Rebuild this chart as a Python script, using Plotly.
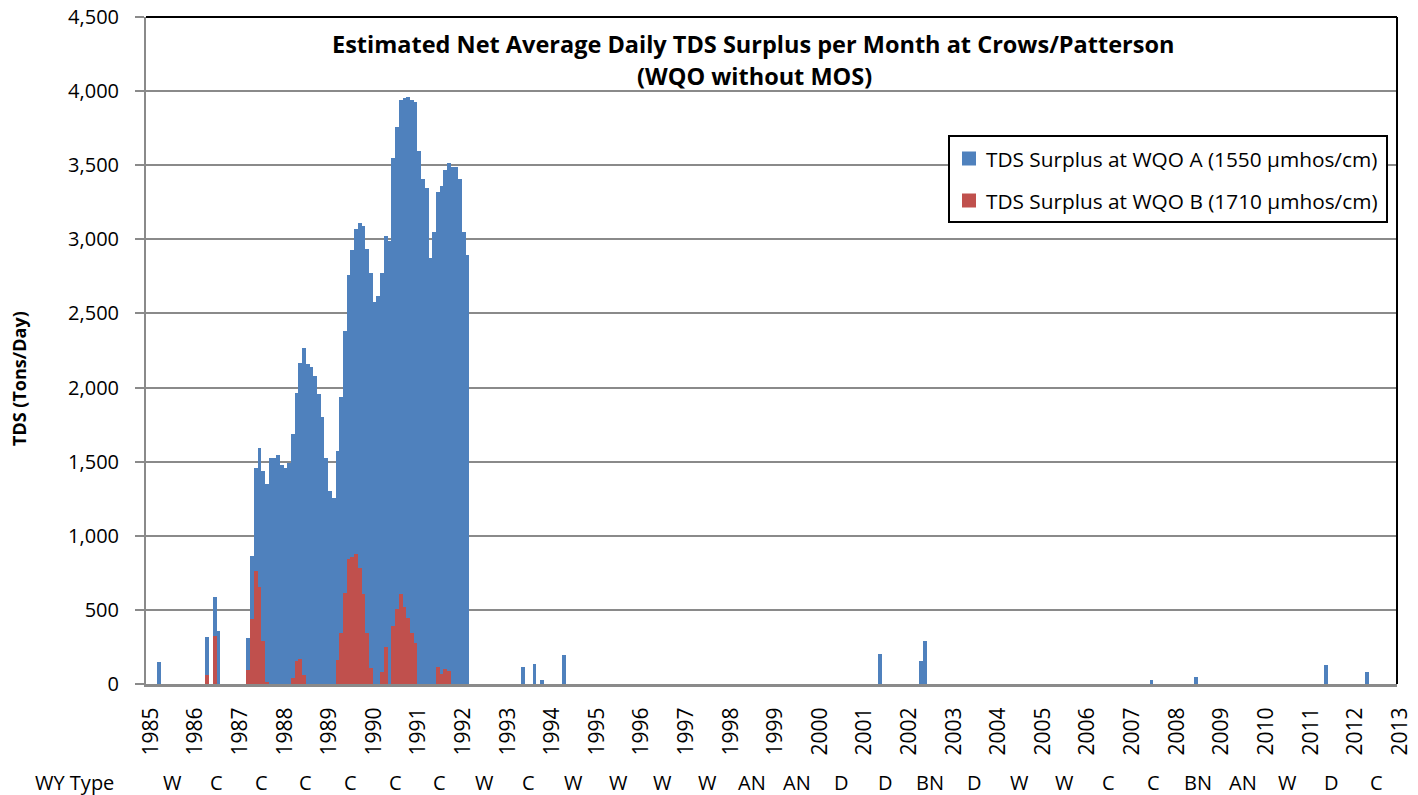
import pandas as pd
import plotly.graph_objects as go

# monthly net TDS surplus (tons/day)
a_name = "TDS Surplus at WQO A (1550 \u00b5mhos/cm)"
b_name = "TDS Surplus at WQO B (1710 \u00b5mhos/cm)"

a_early_months = ["1985-04", "1986-05", "1986-07", "1986-08"]
a_early_vals = [150, 315, 585, 355]

a_run_start = "1987-04"
a_run_vals = [308, 866, 1456, 1590, 1437, 1350, 1523, 1523, 1543, 1478,
              1460, 1493, 1686, 1966, 2168, 2264, 2161, 2139, 2081, 1955,
              1802, 1523, 1303, 1254, 1572, 1937, 2380, 2762, 2925, 3069,
              3110, 3092, 2935, 2773, 2580, 2616, 2773, 3024, 2986, 3551,
              3760, 3939, 3951, 3958, 3939, 3926, 3596, 3406, 3345, 2874,
              3049, 3322, 3361, 3468, 3513, 3487, 3487, 3406, 3049, 2896]

a_late_months = ["1993-06", "1993-09", "1993-11", "1994-05", "2001-06", "2002-05",
                 "2002-06", "2007-07", "2008-07", "2011-06", "2012-05"]
a_late_vals = [115, 137, 29, 195, 204, 155, 290, 25, 45, 125, 78]

b_months = ["1986-05", "1986-07",
            "1987-04", "1987-05", "1987-06", "1987-07", "1987-08", "1987-09",
            "1988-04", "1988-05", "1988-06", "1988-07",
            "1989-04", "1989-05", "1989-06", "1989-07", "1989-08", "1989-09",
            "1989-10", "1989-11", "1989-12", "1990-01",
            "1990-04", "1990-05",
            "1990-07", "1990-08", "1990-09", "1990-10", "1990-11", "1990-12", "1991-01",
            "1991-07", "1991-08", "1991-09", "1991-10"]
b_vals = [58, 325,
          96, 437, 760, 655, 287, 9,
          38, 157, 172, 63,
          163, 347, 617, 841, 855, 877, 781, 608, 347, 108,
          78, 251,
          394, 505, 608, 520, 444, 347, 280,
          116, 69, 101, 87]

years = list(range(1985, 2014))
wy_types = ["W", "C", "C", "C", "C", "C", "C", "W", "C", "W", "W", "W", "W", "AN",
            "AN", "D", "D", "BN", "D", "W", "W", "C", "C", "BN", "AN", "W", "D", "C"]


def month_index(s):
    y, m = s.split("-")
    return (int(y) - 1985) * 12 + int(m) - 1


run_months = [d.strftime("%Y-%m") for d in pd.date_range(a_run_start, periods=len(a_run_vals), freq="MS")]
a_months = a_early_months + run_months + a_late_months
a_vals = a_early_vals + a_run_vals + a_late_vals

W, H = 1418, 795
L, R, T, B = 146, 21, 17, 111
pw, ph = W - L - R, H - T - B


def px(x):
    return (x - L) / pw


def py(y):
    return 1 - (y - T) / ph


FONT = "'Open Sans', Lato, sans-serif"
BLUE = "#4F81BD"
RED = "#C0504D"
GRID = "#8A8A8A"

fig = go.Figure()
fig.add_trace(go.Bar(x=[month_index(s) for s in a_months], y=a_vals, width=1,
                     marker=dict(color=BLUE, line=dict(width=0)), name=a_name))
fig.add_trace(go.Bar(x=[month_index(s) for s in b_months], y=b_vals, width=1,
                     marker=dict(color=RED, line=dict(width=0)), name=b_name))

fig.update_layout(
    width=W, height=H,
    margin=dict(l=L, r=R, t=T, b=B, autoexpand=False),
    barmode="overlay",
    bargap=0,
    showlegend=False,
    plot_bgcolor="white",
    paper_bgcolor="white",
    font=dict(family=FONT, size=20, color="black"),
)

fig.update_xaxes(
    range=[-0.5, 336.02],
    tickvals=[(y - 1985) * 12 for y in years],
    ticktext=[str(y) for y in years],
    tickangle=-90,
    showgrid=False,
    showline=True, linecolor=GRID, linewidth=3,
    ticks="", ticklabelstandoff=12, ticklabelshift=3,
    tickfont=dict(size=21),
    zeroline=False, automargin=False,
)
fig.update_yaxes(
    range=[0, 4500],
    tickvals=list(range(0, 4501, 500)),
    tickformat=",",
    showgrid=True, gridcolor=GRID, gridwidth=2,
    showline=True, linecolor=GRID, linewidth=2,
    ticks="outside", ticklen=9, tickcolor=GRID, tickwidth=2,
    ticklabelstandoff=12,
    tickfont=dict(size=20),
    zeroline=False, automargin=False,
)

# black frame on top and right
fig.add_shape(type="line", xref="paper", yref="paper", x0=0, x1=1, y0=1, y1=1,
              line=dict(color="black", width=2))
fig.add_shape(type="line", xref="paper", yref="paper", x0=1, x1=1, y0=0, y1=1,
              line=dict(color="black", width=2))

# title
fig.add_annotation(text="<b>Estimated Net Average Daily TDS Surplus per Month at Crows/Patterson</b>",
                   xref="paper", yref="paper", x=px(753), y=py(44),
                   xanchor="center", yanchor="middle", showarrow=False, font=dict(size=23.5))
fig.add_annotation(text="<b>(WQO without MOS)</b>",
                   xref="paper", yref="paper", x=px(754), y=py(76),
                   xanchor="center", yanchor="middle", showarrow=False, font=dict(size=23.5))

# y axis title
fig.add_annotation(text="<b>TDS (Tons/Day)</b>", textangle=-90,
                   xref="paper", yref="paper", x=px(19), y=py(379),
                   xanchor="center", yanchor="middle", showarrow=False,
                   font=dict(size=18))

# legend box
fig.add_shape(type="rect", xref="paper", yref="paper",
              x0=px(949), x1=px(1387), y0=py(136), y1=py(222),
              line=dict(color="black", width=2), fillcolor="white", layer="above")
for i, (name, col) in enumerate([(a_name, BLUE), (b_name, RED)]):
    yc = 158.5 + i * 42
    fig.add_shape(type="rect", xref="paper", yref="paper",
                  x0=px(962), x1=px(976), y0=py(yc - 7), y1=py(yc + 7),
                  line=dict(width=0), fillcolor=col, layer="above")
    fig.add_annotation(text=name, xref="paper", yref="paper", x=px(984), y=py(yc),
                       xanchor="left", yanchor="middle", showarrow=False,
                       font=dict(size=20.8))

# water year type row
fig.add_annotation(text="WY Type", xref="paper", yref="paper", x=px(74), y=py(782),
                   xanchor="center", yanchor="middle", showarrow=False, font=dict(size=20))
for k, t in enumerate(wy_types):
    fig.add_annotation(text=t, xref="x", yref="paper", x=12 * k + 6.5, y=py(782),
                       xanchor="center", yanchor="middle", showarrow=False, font=dict(size=20))

fig.write_html("out.html", config={"displayModeBar": False},
               post_script="document.body.style.margin='0';")
